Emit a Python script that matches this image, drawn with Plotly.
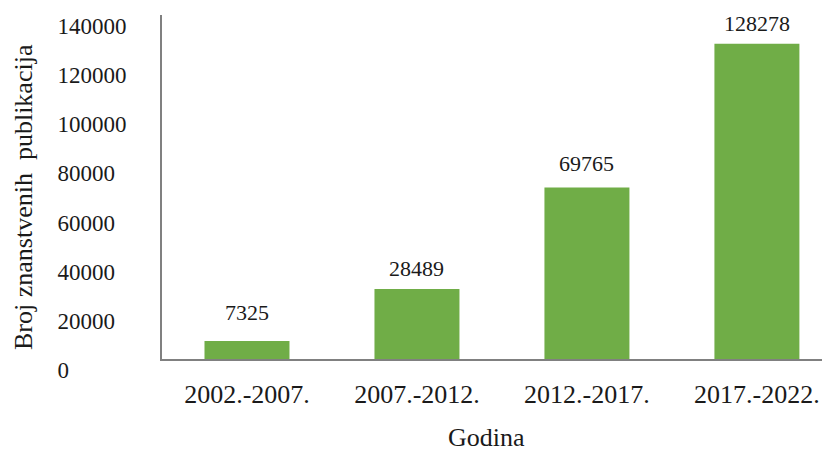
import plotly.graph_objects as go

categories = ["2002.-2007.", "2007.-2012.", "2012.-2017.", "2017.-2022."]
publications = [7325, 28489, 69765, 128278]
y_tick_values = [0, 20000, 40000, 60000, 80000, 100000, 120000, 140000]
y_tick_labels = ["0", "20000", "40000", "60000", "80000", "100000", "120000", "140000"]

FONT = "Liberation Serif"
TEXT = "#1a1a1a"
label_shift = [14, 6, 10, 6]

# pad labels on the right with figure spaces so they appear left-aligned
padded = [t + "\u2007" * (6 - len(t)) for t in y_tick_labels]

fig = go.Figure()
fig.add_trace(go.Bar(
    x=categories, y=publications,
    marker=dict(color="#70AD47", line=dict(width=0)),
    width=0.5,
))

for c, v, s in zip(categories, publications, label_shift):
    fig.add_annotation(x=c, y=v, text=str(v), showarrow=False,
                       yanchor="bottom", yshift=s,
                       font=dict(family=FONT, size=22, color=TEXT))

# page body has an 8px margin: figure is sized/offset to compensate
L, T, B = 154, 7, 96
W, H = 822, 447
pw, ph = W - L, H - T - B

fig.add_annotation(xref="paper", yref="paper",
                   x=(478 - L) / pw, y=-(H - 1 - (H - B)) / ph,
                   xanchor="center", yanchor="bottom",
                   text="Godina", showarrow=False,
                   font=dict(family=FONT, size=26, color=TEXT))
fig.add_annotation(xref="paper", yref="paper",
                   x=(15 - L) / pw, y=((H - B) - 189) / ph,
                   xanchor="center", yanchor="middle",
                   text="Broj znanstvenih  publikacija", showarrow=False,
                   textangle=-90,
                   font=dict(family=FONT, size=26, color=TEXT))

fig.update_layout(
    width=W, height=H,
    margin=dict(l=L, r=0, t=T, b=B, autoexpand=False),
    paper_bgcolor="white", plot_bgcolor="white",
    showlegend=False,
    font=dict(family=FONT, color=TEXT),
)
fig.update_xaxes(
    range=[-0.5, 3.43], showgrid=False, zeroline=False, automargin=False,
    showline=True, linecolor="#808080", linewidth=2,
    ticks="", tickfont=dict(family=FONT, size=26, color=TEXT),
    ticklabelstandoff=11,
)
fig.update_yaxes(
    range=[0, 140000], showgrid=False, zeroline=False, automargin=False,
    showline=True, linecolor="#808080", linewidth=2,
    ticks="", tickvals=y_tick_values, ticktext=padded,
    tickfont=dict(family=FONT, size=23, color=TEXT),
    ticklabelstandoff=29, ticklabelshift=11,
)

fig.write_html("out.html")
